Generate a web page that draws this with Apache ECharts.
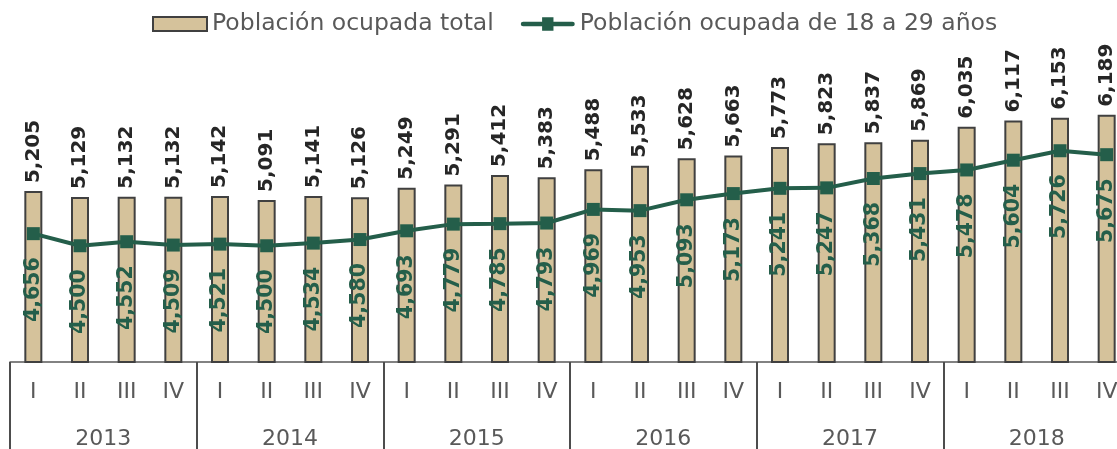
<!DOCTYPE html>
<html>
<head>
<meta charset="utf-8">
<script src="https://cdn.jsdelivr.net/npm/echarts@6/dist/echarts.min.js"></script>
<style>
html,body{margin:0;padding:0;background:#fff;}
#chart{width:1117px;height:449px;}
</style>
</head>
<body>
<div id="chart"></div>
<script>
const quarters = ['I','II','III','IV','I','II','III','IV','I','II','III','IV','I','II','III','IV','I','II','III','IV','I','II','III','IV'];
const years = ['2013','2014','2015','2016','2017','2018'];
const totalEmployed = [5205,5129,5132,5132,5142,5091,5141,5126,5249,5291,5412,5383,5488,5533,5628,5663,5773,5823,5837,5869,6035,6117,6153,6189];
const youthEmployed = [4656,4500,4552,4509,4521,4500,4534,4580,4693,4779,4785,4793,4969,4953,5093,5173,5241,5247,5368,5431,5478,5604,5726,5675];
const seriesNames = ['Población ocupada total','Población ocupada de 18 a 29 años'];

const fmt = v => Number(v).toLocaleString('en-US');
const FONT = 'DejaVu Sans';
const lineIcon = 'path://M2,4.5 H22 V0 H34 V4.5 H54 A2.5,2.5 0 0 1 54,9.5 H34 V14 H22 V9.5 H2 A2.5,2.5 0 0 1 2,4.5 Z';
const chart = echarts.init(document.getElementById('chart'), null, {renderer:'canvas'});
chart.setOption({
  animation:false,
  backgroundColor:'#ffffff',
  textStyle:{fontFamily:FONT},
  legend:{
    left:152, top:12, padding:0,
    itemWidth:54, itemHeight:14, itemGap:27,
    textStyle:{fontFamily:FONT, fontSize:23.5, color:'#595959'},
    data:[
      {name:seriesNames[0], icon:'rect'},
      {name:seriesNames[1], icon:lineIcon, itemStyle:{color:'#245e4a', borderWidth:0}}
    ]
  },
  grid:{left:10, width:1120, top:52, bottom:87, containLabel:false, outerBoundsMode:'none'},
  xAxis:[
    {
      type:'category', data:quarters, position:'bottom',
      axisLine:{show:true, lineStyle:{color:'#595959', width:1.5}},
      axisTick:{show:false},
      axisLabel:{interval:0, margin:19, fontFamily:FONT, fontSize:22, color:'#595959'}
    },
    {
      type:'category', data:years, position:'bottom', offset:0,
      axisLine:{show:false},
      axisTick:{show:true, length:90, interval:0, lineStyle:{color:'#4d4d4d', width:2}},
      axisLabel:{interval:0, margin:66, fontFamily:FONT, fontSize:22, color:'#595959'}
    }
  ],
  yAxis:{type:'value', min:3000, max:7000, show:false, splitLine:{show:false}},
  series:[
    {
      name:seriesNames[0], type:'bar', data:totalEmployed, barWidth:18,
      itemStyle:{color:'#d5c29b', borderColor:'#404040', borderWidth:2},
      label:{show:true, position:'top', rotate:90, align:'left', verticalAlign:'middle', distance:8,
        fontFamily:FONT, fontWeight:'bold', fontSize:20, color:'#262626', formatter:p=>fmt(p.value)}
    },
    {
      name:seriesNames[1], type:'line', data:youthEmployed,
      symbol:'rect', symbolSize:13,
      lineStyle:{color:'#245e4a', width:4},
      itemStyle:{color:'#245e4a'},
      label:{show:true, position:'bottom', rotate:90, align:'right', verticalAlign:'middle', distance:17,
        fontFamily:FONT, fontWeight:'bold', fontSize:20.5, color:'#245e4a', formatter:p=>fmt(p.value)}
    }
  ]
});
</script>
</body>
</html>
